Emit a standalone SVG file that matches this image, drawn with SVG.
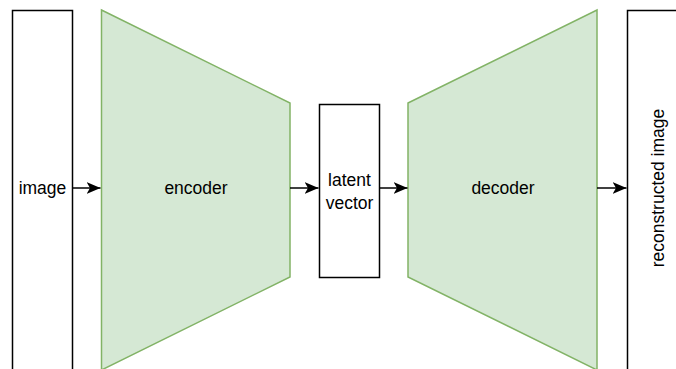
<svg xmlns="http://www.w3.org/2000/svg" width="676" height="369" viewBox="0 0 676 369">
<style>
.box{fill:#ffffff;stroke:#000000;stroke-width:1.5}
.trap{fill:#d5e8d4;stroke:#82b366;stroke-width:1.5}
.lbl{font-family:"Liberation Sans",Arial,Helvetica,sans-serif;font-size:17.5px;fill:#000;text-anchor:middle;dominant-baseline:central}
.edge{stroke:#000;stroke-width:1.5;fill:none}
</style>
<defs>
<marker id="arr" viewBox="0 0 14 12" refX="14" refY="6" markerWidth="14" markerHeight="12" markerUnits="userSpaceOnUse" orient="auto">
<path d="M0,0 L14,6 L0,12 L3.5,6 Z" fill="#000"/>
</marker>
</defs>
<g id="image">
<rect class="box" x="12.5" y="10.5" width="60" height="370"/>
<text class="lbl" x="42.5" y="188">image</text>
</g>
<g id="encoder">
<polygon class="trap" points="101.5,10 290,103 290,277 101.5,370"/>
<text class="lbl" x="196" y="188">encoder</text>
</g>
<g id="latent">
<rect class="box" x="319.5" y="104.5" width="60" height="173"/>
<text class="lbl" x="349.5" y="180">latent</text>
<text class="lbl" x="349.5" y="203">vector</text>
</g>
<g id="decoder">
<polygon class="trap" points="408,103 597,10 597,370 408,277"/>
<text class="lbl" x="503" y="188">decoder</text>
</g>
<g id="reconstructed">
<rect class="box" x="627.5" y="10.5" width="60" height="370"/>
<text class="lbl" transform="translate(657.5,188) rotate(-90)" x="0" y="0">reconstructed image</text>
</g>
<g id="connectors">
<line class="edge" x1="72.5" y1="188" x2="100.5" y2="188" marker-end="url(#arr)"/>
<line class="edge" x1="290" y1="188" x2="318.5" y2="188" marker-end="url(#arr)"/>
<line class="edge" x1="379.5" y1="188" x2="407.5" y2="188" marker-end="url(#arr)"/>
<line class="edge" x1="597" y1="188" x2="626.5" y2="188" marker-end="url(#arr)"/>
</g>
</svg>
